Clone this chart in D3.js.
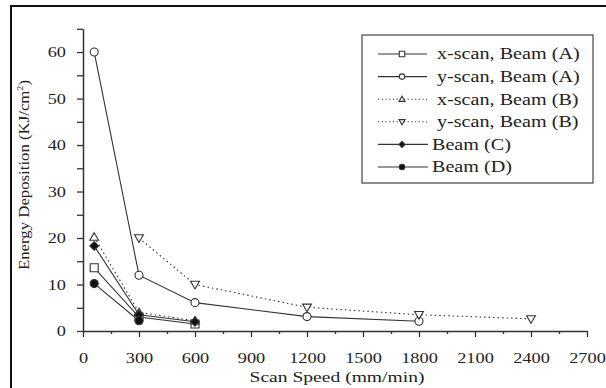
<!DOCTYPE html>
<html>
<head>
<meta charset="utf-8">
<script src="https://cdn.jsdelivr.net/npm/d3@7"></script>
<style>
  body { margin: 0; background: #fff; }
  svg text { font-family: "Liberation Serif", "Times New Roman", serif; fill: #222; }
  .stretch { transform-box: fill-box; transform: scaleX(1.22); }
  .wide { transform-box: fill-box; transform: scaleX(1.26); }
</style>
</head>
<body>
<figure style="margin:0"></figure>
<script>
const WIDTH = 606
const HEIGHT = 388

// series values: [scan speed, energy]
const xScanA = [[60, 13.6], [300, 3], [600, 1.5]]
const yScanA = [[60, 60], [300, 12], [600, 6.1], [1200, 3.1], [1800, 2.1]]
const xScanB = [[60, 20.2], [300, 4], [600, 2.2]]
const yScanB = [[300, 20], [600, 10], [1200, 5.1], [1800, 3.5], [2400, 2.6]]
const beamC = [[60, 18.3], [300, 3.5], [600, 2]]
const beamD = [[60, 10.2], [300, 2.2]]

const seriesNames = ['x-scan, Beam (A)', 'y-scan, Beam (A)', 'x-scan, Beam (B)', 'y-scan, Beam (B)', 'Beam (C)', 'Beam (D)']
const xTicks = d3.range(0, 2700 + 1, 300)

const series = [
  { name: seriesNames[0], data: xScanA, symbol: 'square', fill: false, dotted: false },
  { name: seriesNames[1], data: yScanA, symbol: 'circle', fill: false, dotted: false },
  { name: seriesNames[2], data: xScanB, symbol: 'up', fill: false, dotted: true },
  { name: seriesNames[3], data: yScanB, symbol: 'down', fill: false, dotted: true },
  { name: seriesNames[4], data: beamC, symbol: 'diamond', fill: true, dotted: false },
  { name: seriesNames[5], data: beamD, symbol: 'circle', fill: true, dotted: false }
]

const x = d3.scaleLinear().domain([0, 2700]).range([83, 587])
const y = d3.scaleLinear().domain([0, 65]).range([331, 28.8])

const svg = d3.select('figure').append('svg')
  .attr('width', WIDTH)
  .attr('height', HEIGHT)

// outer frame (runs off the right and bottom of the picture)
svg.append('rect')
  .attr('x', 11).attr('y', 6)
  .attr('width', 800).attr('height', 600)
  .attr('fill', 'none')
  .attr('stroke', '#111')
  .attr('stroke-width', 2)

// axes
const xAxis = svg.append('g')
  .attr('transform', `translate(0,${y(0)})`)
  .call(d3.axisBottom(x).tickValues(xTicks).tickSize(6).tickPadding(15).tickSizeOuter(0)
    .tickFormat(d3.format('d')))
const xMinor = svg.append('g')
  .attr('transform', `translate(0,${y(0)})`)
  .call(d3.axisBottom(x).tickValues(d3.range(150, 2700, 300)).tickSize(3).tickFormat('').tickSizeOuter(0))
xMinor.select('.domain').remove()

const yAxis = svg.append('g')
  .attr('transform', `translate(${x(0)},0)`)
  .call(d3.axisLeft(y).tickValues(d3.range(0, 65 + 1, 5)).tickSize(6).tickPadding(11).tickSizeOuter(0)
    .tickFormat(d => d % 10 === 0 ? d : ''))

for (const ax of [xAxis, xMinor, yAxis]) {
  ax.select('.domain').attr('stroke', '#333').attr('stroke-width', 1.5)
  ax.selectAll('.tick line').attr('stroke', '#333').attr('stroke-width', 1.3)
}
xAxis.selectAll('.tick text').attr('font-size', 15).attr('fill', '#222')
  .attr('class', 'stretch').style('transform-origin', '50% 50%')
yAxis.selectAll('.tick text').attr('font-size', 15).attr('fill', '#222')
  .attr('class', 'stretch').style('transform-origin', '100% 50%')

svg.append('text')
  .attr('x', 337).attr('y', 382)
  .attr('text-anchor', 'middle')
  .attr('font-size', 15)
  .attr('textLength', 175)
  .attr('lengthAdjust', 'spacingAndGlyphs')
  .text('Scan Speed (mm/min)')

const yTitle = svg.append('text')
  .attr('transform', 'translate(29,175) rotate(-90)')
  .attr('text-anchor', 'middle')
  .attr('font-size', 15)
  .attr('textLength', 190)
  .attr('lengthAdjust', 'spacingAndGlyphs')
yTitle.append('tspan').text('Energy Deposition (KJ/cm')
yTitle.append('tspan').attr('font-size', 9).attr('dy', -6).text('2')
yTitle.append('tspan').attr('dy', 6).text(')')

function symbolPath (kind, s) {
  const h = s / 2
  if (kind === 'square') return `M${-h},${-h}h${s}v${s}h${-s}Z`
  if (kind === 'up') return `M0,${-h * 1.1}L${h * 1.1},${h * 0.8}L${-h * 1.1},${h * 0.8}Z`
  if (kind === 'down') return `M0,${h * 1.1}L${h * 1.1},${-h * 0.8}L${-h * 1.1},${-h * 0.8}Z`
  if (kind === 'diamond') return `M0,${-h * 1.1}L${h * 1.1},0L0,${h * 1.1}L${-h * 1.1},0Z`
  return null
}

function drawMarker (g, s, px, py, size) {
  if (s.symbol === 'circle') {
    g.append('circle')
      .attr('cx', px).attr('cy', py).attr('r', size / 2)
      .attr('fill', s.fill ? '#111' : '#fff')
      .attr('stroke', '#333').attr('stroke-width', 1.1)
  } else {
    g.append('path')
      .attr('d', symbolPath(s.symbol, size))
      .attr('transform', `translate(${px},${py})`)
      .attr('fill', s.fill ? '#111' : '#fff')
      .attr('stroke', '#333').attr('stroke-width', 1.1)
  }
}

const line = d3.line().x(d => x(d[0])).y(d => y(d[1]))

const plot = svg.append('g')
series.forEach(s => {
  plot.append('path')
    .datum(s.data)
    .attr('d', line)
    .attr('fill', 'none')
    .attr('stroke', '#333')
    .attr('stroke-width', 1.1)
    .attr('stroke-dasharray', s.dotted ? '1.5,3' : null)
})
series.forEach(s => {
  const g = plot.append('g')
  s.data.forEach(d => drawMarker(g, s, x(d[0]), y(d[1]), 8))
})

// legend
const legend = svg.append('g')
legend.append('rect')
  .attr('x', 362).attr('y', 35)
  .attr('width', 231).attr('height', 148)
  .attr('fill', '#fff')
  .attr('stroke', '#444')
  .attr('stroke-width', 1.2)

series.forEach((s, i) => {
  const ry = 54 + i * 22.6
  const short = i >= 4
  legend.append('line')
    .attr('x1', 378).attr('x2', short ? 428 : 427)
    .attr('y1', ry).attr('y2', ry)
    .attr('stroke', '#333')
    .attr('stroke-width', 1.1)
    .attr('stroke-dasharray', s.dotted ? '1.2,2.5' : null)
  drawMarker(legend, s, 402, ry, 5.5)
  legend.append('text')
    .attr('x', short ? 432 : 437)
    .attr('y', ry + 5.5)
    .attr('font-size', 16)
    .attr('class', 'wide')
    .style('transform-origin', '0% 50%')
    .text(s.name)
})
</script>
</body>
</html>
